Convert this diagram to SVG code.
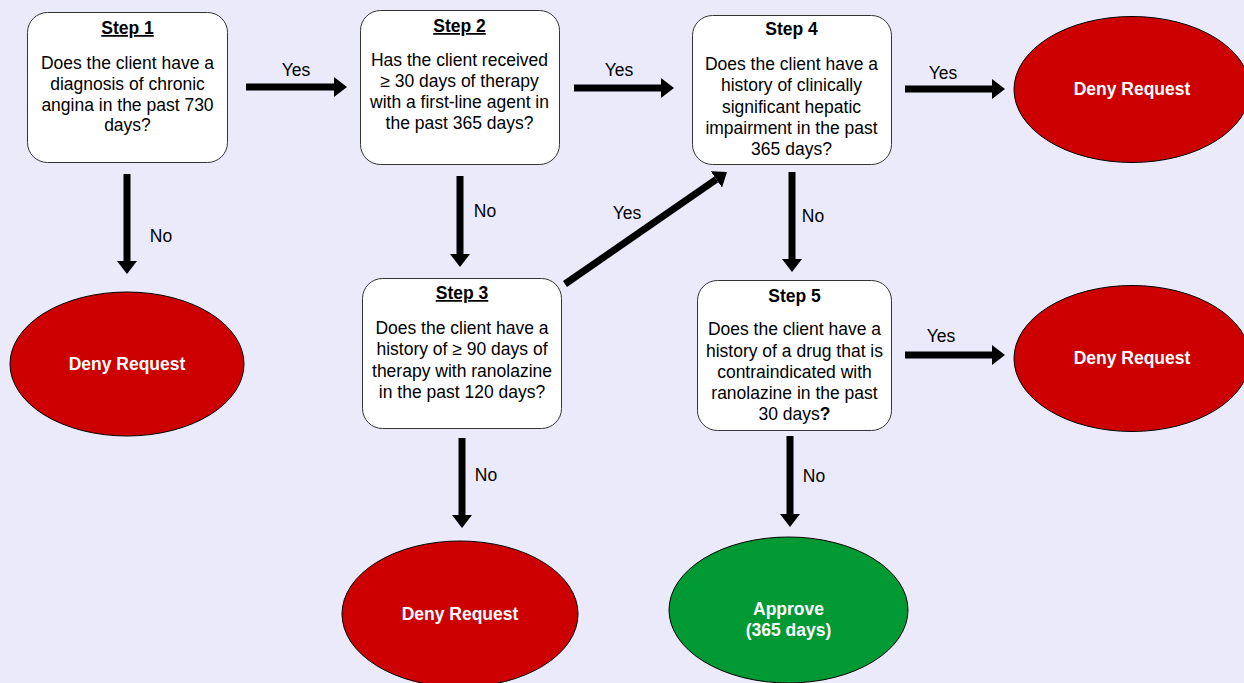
<svg xmlns="http://www.w3.org/2000/svg" width="1244" height="683" viewBox="0 0 1244 683">
<style>
.bg{fill:#EAEAFB}
.box{fill:#FFFFFF;stroke:#333333;stroke-width:1}
.deny{fill:#CC0000;stroke:#000000;stroke-width:1}
.ok{fill:#009933;stroke:#000000;stroke-width:1}
text{font-family:"Liberation Sans",Arial,sans-serif;font-size:17.5px;fill:#000000;text-anchor:middle}
.t{font-weight:bold}
.u{text-decoration:underline}
.w{fill:#FFFFFF;font-weight:bold}
.c{stroke:#000000;stroke-width:7;fill:none;marker-end:url(#ah)}
</style>
<defs>
<marker id="ah" viewBox="0 0 13 20" refX="0" refY="10" markerWidth="13" markerHeight="20" markerUnits="userSpaceOnUse" orient="auto">
<path d="M0,0 L13,10 L0,20 z" fill="#000000"/>
</marker>
</defs>
<rect class="bg" x="0" y="0" width="1244" height="683"/>
<g id="connectors">
<line class="c" x1="246" y1="87" x2="334" y2="87"/>
<line class="c" x1="574" y1="88" x2="661" y2="88"/>
<line class="c" x1="905" y1="89" x2="992" y2="89"/>
<line class="c" x1="905" y1="355" x2="992" y2="355"/>
<line class="c" x1="127" y1="174" x2="127" y2="261"/>
<line class="c" x1="460" y1="176" x2="460" y2="254"/>
<line class="c" x1="792" y1="172" x2="792" y2="259"/>
<line class="c" x1="462" y1="438" x2="462" y2="515"/>
<line class="c" x1="790" y1="436" x2="790" y2="514"/>
<line class="c" x1="565" y1="284" x2="716.3" y2="179.4"/>
<text x="296" y="76">Yes</text>
<text x="619" y="76">Yes</text>
<text x="943" y="79">Yes</text>
<text x="941" y="342">Yes</text>
<text x="627" y="219">Yes</text>
<text x="161" y="242">No</text>
<text x="485" y="217">No</text>
<text x="813" y="222">No</text>
<text x="486" y="481">No</text>
<text x="814" y="482">No</text>
</g>
<g id="step1">
<rect class="box" x="27.5" y="12.5" width="200" height="150" rx="20"/>
<text class="t u" x="127.5" y="34">Step 1</text>
<text x="127.5" y="69">Does the client have a</text>
<text x="127.5" y="90">diagnosis of chronic</text>
<text x="127.5" y="110.5">angina in the past 730</text>
<text x="127.5" y="131">days?</text>
</g>
<g id="step2">
<rect class="box" x="360.5" y="10.5" width="199" height="154" rx="20"/>
<text class="t u" x="459.5" y="32">Step 2</text>
<text x="459.5" y="66">Has the client received</text>
<text x="459.5" y="87">≥ 30 days of therapy</text>
<text x="459.5" y="108">with a first-line agent in</text>
<text x="459.5" y="129">the past 365 days?</text>
</g>
<g id="step4">
<rect class="box" x="692.5" y="15.5" width="199" height="149" rx="20"/>
<text class="t" x="791.5" y="35">Step 4</text>
<text x="791.5" y="70">Does the client have a</text>
<text x="791.5" y="91">history of clinically</text>
<text x="791.5" y="113">significant hepatic</text>
<text x="791.5" y="134">impairment in the past</text>
<text x="791.5" y="155">365 days?</text>
</g>
<g id="step3">
<rect class="box" x="362.5" y="278.5" width="199" height="150" rx="20"/>
<text class="t u" x="462" y="299">Step 3</text>
<text x="462" y="334">Does the client have a</text>
<text x="462" y="355">history of ≥ 90 days of</text>
<text x="462" y="377">therapy with ranolazine</text>
<text x="462" y="398">in the past 120 days?</text>
</g>
<g id="step5">
<rect class="box" x="697.5" y="280.5" width="194" height="150" rx="20"/>
<text class="t" x="794.5" y="302">Step 5</text>
<text x="794.5" y="335">Does the client have a</text>
<text x="794.5" y="357">history of a drug that is</text>
<text x="794.5" y="378">contraindicated with</text>
<text x="794.5" y="399">ranolazine in the past</text>
<text x="794.5" y="420">30 days<tspan font-weight="bold">?</tspan></text>
</g>
<g id="deny1">
<ellipse class="deny" cx="127" cy="364" rx="117" ry="72"/>
<text class="w" x="127" y="370">Deny Request</text>
</g>
<g id="deny4">
<ellipse class="deny" cx="1132" cy="89.5" rx="118" ry="73"/>
<text class="w" x="1132" y="95">Deny Request</text>
</g>
<g id="deny5">
<ellipse class="deny" cx="1132" cy="358.5" rx="118" ry="73"/>
<text class="w" x="1132" y="364">Deny Request</text>
</g>
<g id="deny3">
<ellipse class="deny" cx="460" cy="614" rx="118" ry="73"/>
<text class="w" x="460" y="620">Deny Request</text>
</g>
<g id="approve">
<ellipse class="ok" cx="788.5" cy="610" rx="119.5" ry="73"/>
<text class="w" x="788.5" y="615">Approve</text>
<text class="w" x="788.5" y="636">(365 days)</text>
</g>
</svg>
